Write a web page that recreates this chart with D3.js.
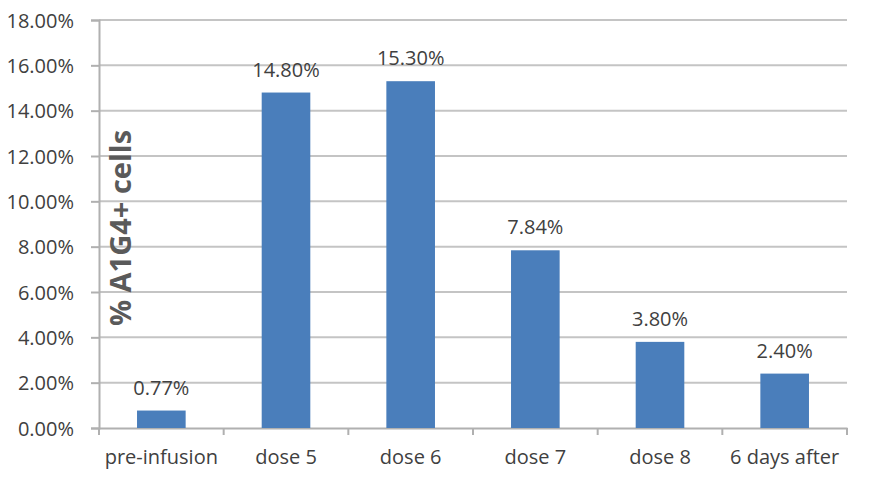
<!DOCTYPE html>
<html>
<head>
<meta charset="utf-8">
<script src="https://cdn.jsdelivr.net/npm/d3@7"></script>
<style>
  body { margin: 0; background: #fff; }
  text { font-family: "Open Sans", sans-serif; }
</style>
</head>
<body>
<div id="chart"></div>
<script>
let categories = ["pre-infusion", "dose 5", "dose 6", "dose 7", "dose 8", "6 days after"]
let values = [0.0077, 0.148, 0.153, 0.0784, 0.038, 0.024]
let yTicks = [0, 0.02, 0.04, 0.06, 0.08, 0.10, 0.12, 0.14, 0.16, 0.18]

let margin = {top: 20, right: 24, bottom: 53, left: 99}
let width = 871 - margin.left - margin.right,
    height = 481 - margin.top - margin.bottom

let svg = d3.select("#chart")
    .append("svg")
    .attr("width", 871)
    .attr("height", 481)

let g = svg.append("g")
    .attr("transform", "translate(" + margin.left + "," + margin.top + ")")

let x = d3.scaleBand()
    .domain(categories)
    .range([0, width])
    .paddingInner(0.61)
    .paddingOuter(0.305)

let y = d3.scaleLinear()
    .domain([0, 0.18])
    .range([height, 0])

// gridlines
g.append("g")
    .selectAll("line")
    .data(yTicks.slice(1))
    .enter()
    .append("line")
    .attr("x1", 0)
    .attr("x2", width)
    .attr("y1", d => y(d))
    .attr("y2", d => y(d))
    .attr("stroke", "#c4c4c4")
    .attr("stroke-width", 2)

// y axis
let yAxis = g.append("g")
    .call(d3.axisLeft(y).tickValues(yTicks).tickFormat(d3.format(".2%")).tickSize(8).tickPadding(17))
yAxis.select(".domain").attr("stroke", "#b0b0b0").attr("stroke-width", 2)
yAxis.selectAll(".tick line").attr("stroke", "#b0b0b0").attr("stroke-width", 2)
yAxis.selectAll("text").attr("fill", "#404040").style("font-size", "20px").attr("dy", "0.36em")

// x axis
let xAxis = g.append("g")
    .attr("transform", "translate(0," + height + ")")
    .call(d3.axisBottom(x).tickSize(0).tickPadding(22))
xAxis.select(".domain").attr("stroke", "#b0b0b0").attr("stroke-width", 2)
xAxis.selectAll("text").attr("fill", "#404040").style("font-size", "20px")

// category separator ticks
g.append("g")
    .selectAll("line")
    .data(d3.range(0, categories.length + 1))
    .enter()
    .append("line")
    .attr("x1", i => i * x.step())
    .attr("x2", i => i * x.step())
    .attr("y1", height)
    .attr("y2", height + 7)
    .attr("stroke", "#b0b0b0")
    .attr("stroke-width", 2)

// bars
g.selectAll(".bar")
    .data(values)
    .enter()
    .append("rect")
    .attr("class", "bar")
    .attr("x", (d, i) => x(categories[i]))
    .attr("width", x.bandwidth())
    .attr("y", d => y(d))
    .attr("height", d => height - y(d))
    .attr("fill", "#4a7ebb")

// value labels
g.selectAll(".lbl")
    .data(values)
    .enter()
    .append("text")
    .attr("class", "lbl")
    .attr("x", (d, i) => x(categories[i]) + x.bandwidth() / 2)
    .attr("y", d => y(d) - 16)
    .attr("text-anchor", "middle")
    .attr("fill", "#404040")
    .style("font-size", "20px")
    .text(d => d3.format(".2%")(d))

// y title, drawn inside the plot
g.append("text")
    .attr("transform", "translate(" + 32 + "," + 208 + ") rotate(-90)")
    .attr("text-anchor", "middle")
    .attr("fill", "#5a5a5a")
    .style("font-size", "29px")
    .style("font-weight", "bold")
    .text("% A1G4+ cells")
</script>
</body>
</html>
